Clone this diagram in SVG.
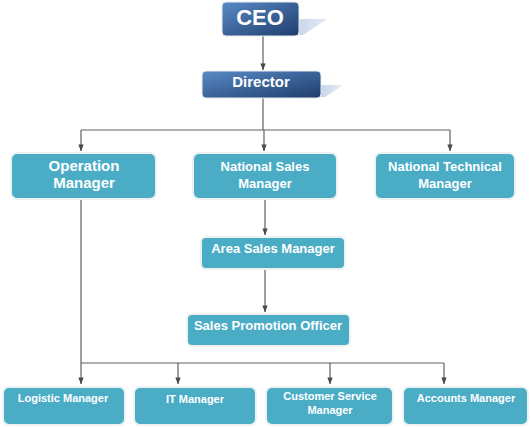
<svg xmlns="http://www.w3.org/2000/svg" width="531" height="428" viewBox="0 0 531 428">
<defs>
<linearGradient id="navy" x1="0" y1="0" x2="1" y2="1">
<stop offset="0" stop-color="#5a8ac6"/>
<stop offset="1" stop-color="#1e3d6c"/>
</linearGradient>
<linearGradient id="shd" x1="0" y1="0" x2="1" y2="0">
<stop offset="0" stop-color="#c9d7ea"/>
<stop offset="1" stop-color="#e3eaf5"/>
</linearGradient>
<marker id="arr" viewBox="0 0 8 6" refX="7.5" refY="3" markerWidth="7" markerHeight="6" markerUnits="userSpaceOnUse" orient="auto">
<path d="M0,0 L8,3 L0,6 z" fill="#4a4a4a"/>
</marker>
</defs>
<style>
.top{fill:url(#navy);stroke:#e6ebf2;stroke-width:1}
.box{fill:#4bacc6;stroke:#eef1f2;stroke-width:2}
.t{font-family:"Liberation Sans",Arial,sans-serif;font-weight:bold;fill:#fff;text-anchor:middle}
.c line{stroke:#606060;stroke-width:1.2;fill:none}
.c .a{marker-end:url(#arr)}
</style>
<rect width="531" height="428" fill="#fff"/>
<g class="c" id="connectors">
<line class="a" x1="263" y1="36" x2="263" y2="70"/>
<line x1="263" y1="98" x2="263" y2="130"/>
<line x1="81" y1="130" x2="450" y2="130"/>
<line class="a" x1="81" y1="130" x2="81" y2="151"/>
<line class="a" x1="264" y1="130" x2="264" y2="151"/>
<line class="a" x1="450" y1="130" x2="450" y2="151"/>
<line class="a" x1="265" y1="200" x2="265" y2="235"/>
<line class="a" x1="265" y1="270" x2="265" y2="312"/>
<line x1="81" y1="200" x2="81" y2="363"/>
<line x1="81" y1="363" x2="444" y2="363"/>
<line class="a" x1="81" y1="363" x2="81" y2="384"/>
<line class="a" x1="178" y1="363" x2="178" y2="384"/>
<line class="a" x1="330" y1="363" x2="330" y2="384"/>
<line class="a" x1="444" y1="363" x2="444" y2="384"/>
</g>
<g id="ceo">
<polygon points="299,19 327,19 303,35 299,35" fill="url(#shd)"/>
<rect class="top" x="222" y="2" width="77" height="34" rx="4"/>
<text class="t" x="260" y="25" font-size="22">CEO</text>
</g>
<g id="director">
<polygon points="321,85 343,85 325,97 321,97" fill="url(#shd)"/>
<rect class="top" x="202" y="71" width="119" height="27" rx="4"/>
<text class="t" x="261" y="87" font-size="15">Director</text>
</g>
<g id="operation-manager">
<rect class="box" x="11" y="153" width="145" height="46" rx="6"/>
<text class="t" x="84" y="171" font-size="15">Operation</text>
<text class="t" x="84" y="188" font-size="15">Manager</text>
</g>
<g id="national-sales-manager">
<rect class="box" x="193" y="153" width="144" height="46" rx="6"/>
<text class="t" x="265" y="171" font-size="13">National Sales</text>
<text class="t" x="265" y="188" font-size="13">Manager</text>
</g>
<g id="national-technical-manager">
<rect class="box" x="375" y="153" width="140" height="46" rx="6"/>
<text class="t" x="445" y="171" font-size="13">National Technical</text>
<text class="t" x="445" y="188" font-size="13">Manager</text>
</g>
<g id="area-sales-manager">
<rect class="box" x="201" y="237" width="144" height="32" rx="5"/>
<text class="t" x="273" y="253" font-size="13">Area Sales Manager</text>
</g>
<g id="sales-promotion-officer">
<rect class="box" x="187" y="314" width="163" height="32" rx="5"/>
<text class="t" x="268" y="330" font-size="13">Sales Promotion Officer</text>
</g>
<g id="logistic-manager">
<rect class="box" x="3" y="387" width="122" height="38" rx="6"/>
<text class="t" x="63" y="402" font-size="11">Logistic Manager</text>
</g>
<g id="it-manager">
<rect class="box" x="134" y="387" width="122" height="38" rx="6"/>
<text class="t" x="195" y="403" font-size="11">IT Manager</text>
</g>
<g id="customer-service-manager">
<rect class="box" x="266" y="387" width="127" height="38" rx="6"/>
<text class="t" x="330" y="400" font-size="11">Customer Service</text>
<text class="t" x="330" y="414" font-size="11">Manager</text>
</g>
<g id="accounts-manager">
<rect class="box" x="403" y="387" width="125" height="38" rx="6"/>
<text class="t" x="466" y="402" font-size="11">Accounts Manager</text>
</g>
</svg>
